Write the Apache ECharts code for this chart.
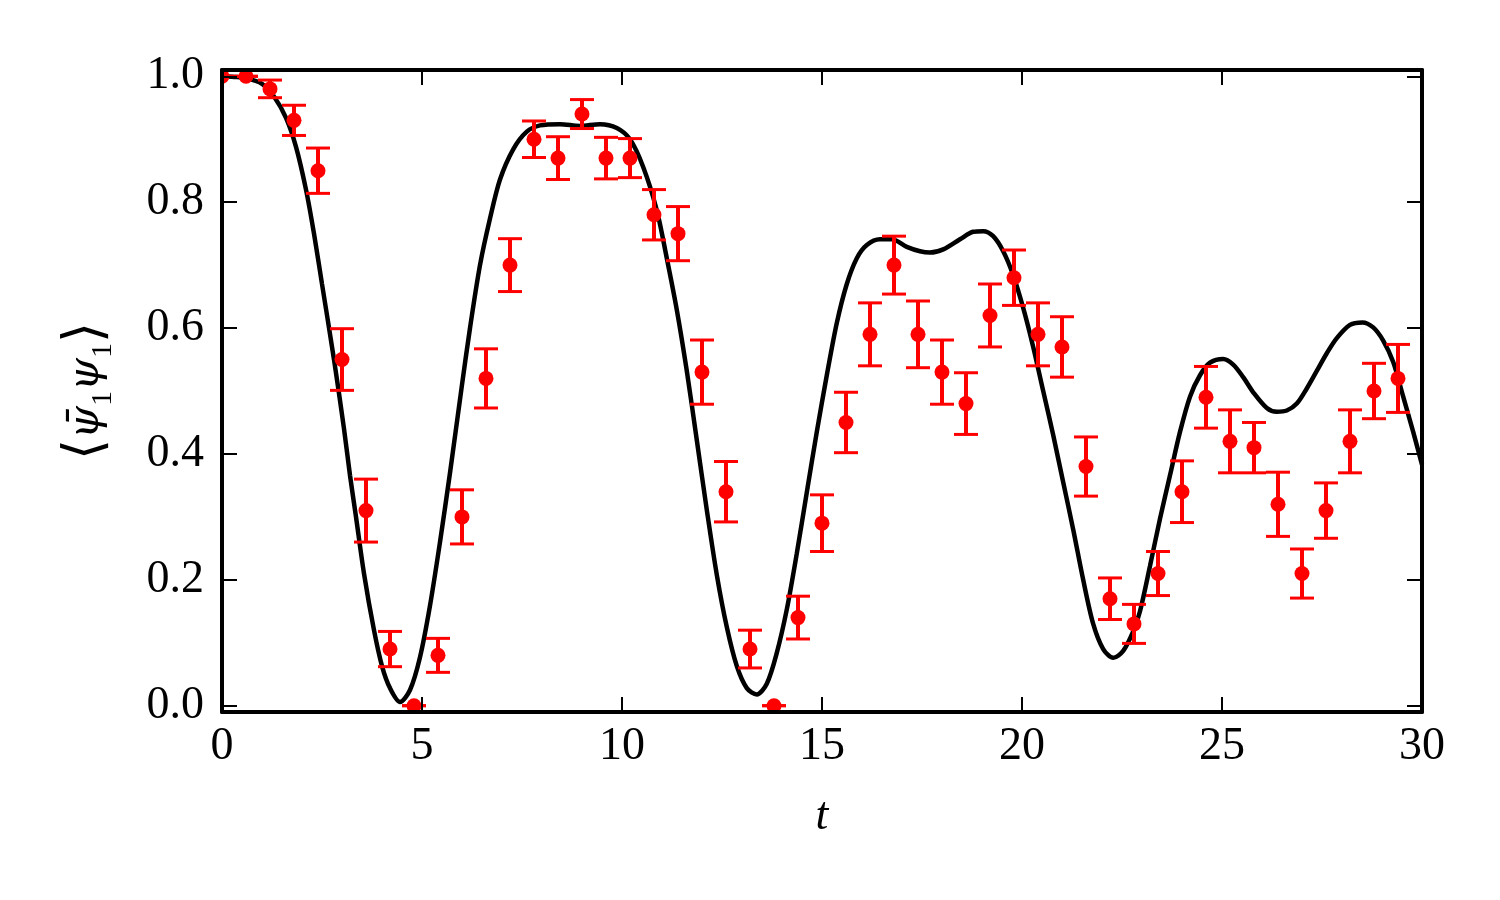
<!DOCTYPE html>
<html>
<head>
<meta charset="utf-8">
<script src="https://cdn.jsdelivr.net/npm/echarts@6/dist/echarts.min.js"></script>
<style>
  html, body { margin: 0; padding: 0; background: #fff; }
  #chart { width: 1500px; height: 900px; }
</style>
</head>
<body>
<div id="chart"></div>
<script>
const pointT = [0, 0.6, 1.2, 1.8, 2.4, 3.0, 3.6, 4.2, 4.8, 5.4, 6.0, 6.6, 7.2, 7.8, 8.4, 9.0, 9.6,
  10.2, 10.8, 11.4, 12.0, 12.6, 13.2, 13.8, 14.4, 15.0, 15.6, 16.2, 16.8, 17.4, 18.0, 18.6, 19.2,
  19.8, 20.4, 21.0, 21.6, 22.2, 22.8, 23.4, 24.0, 24.6, 25.2, 25.8, 26.4, 27.0, 27.6, 28.2, 28.8, 29.4];
const pointV = [1.0, 1.0, 0.98, 0.93, 0.85, 0.55, 0.31, 0.09, 0.0, 0.08, 0.30, 0.52, 0.70, 0.90, 0.87, 0.94, 0.87,
  0.87, 0.78, 0.75, 0.53, 0.34, 0.09, 0.0, 0.14, 0.29, 0.45, 0.59, 0.70, 0.59, 0.53, 0.48, 0.62,
  0.68, 0.59, 0.57, 0.38, 0.17, 0.13, 0.21, 0.34, 0.49, 0.42, 0.41, 0.32, 0.21, 0.31, 0.42, 0.50, 0.52];
const pointErr = [0.0, 0.0, 0.014, 0.024, 0.036, 0.049, 0.050, 0.028, 0.0, 0.027, 0.043, 0.047, 0.042, 0.029, 0.034, 0.023, 0.033,
  0.031, 0.040, 0.043, 0.051, 0.048, 0.030, 0.0, 0.034, 0.045, 0.048, 0.050, 0.046, 0.053, 0.051, 0.049, 0.050,
  0.044, 0.050, 0.048, 0.047, 0.033, 0.031, 0.035, 0.049, 0.049, 0.050, 0.040, 0.051, 0.039, 0.044, 0.050, 0.044, 0.054];

// theory curve
const curveT = [0, 0.3, 0.6, 1.0, 1.3, 1.6, 1.85, 2.1, 2.3, 2.5, 2.8, 3.05, 3.2, 3.35, 3.55, 3.8, 4.0, 4.2, 4.45,
  4.7, 4.95, 5.2, 5.45, 5.7, 6.0, 6.2, 6.45, 6.7, 6.95, 7.28, 7.62, 7.95, 8.45, 8.95, 9.45, 9.87,
  10.2, 10.53, 10.87, 11.12, 11.37, 11.62, 11.87, 12.12, 12.37, 12.62, 12.87, 13.12, 13.37, 13.62, 13.87,
  14.12, 14.37, 14.62, 14.87, 15.12, 15.37, 15.62, 15.87, 16.12, 16.45, 16.75, 17.12, 17.45, 17.7, 18.03,
  18.45, 18.78, 19.03, 19.28, 19.53, 19.78, 20.03, 20.28, 20.53, 20.78, 21.03, 21.28, 21.53, 21.78, 22.03,
  22.28, 22.53, 22.78, 22.95, 23.2, 23.45, 23.7, 23.95, 24.2, 24.45, 24.7, 25.03, 25.28, 25.53, 25.78,
  26.12, 26.37, 26.62, 26.87, 27.12, 27.37, 27.62, 27.87, 28.2, 28.51, 28.78, 29.03, 29.28, 29.53, 29.78, 30.0];
const curveV = [1.0, 0.999, 0.997, 0.988, 0.968, 0.934, 0.888, 0.82, 0.75, 0.67, 0.55, 0.44, 0.366, 0.30, 0.21, 0.12, 0.063, 0.028, 0.006,
  0.025, 0.077, 0.159, 0.26, 0.37, 0.51, 0.60, 0.70, 0.774, 0.836, 0.884, 0.912, 0.922, 0.924, 0.921, 0.924, 0.918,
  0.90, 0.856, 0.787, 0.711, 0.629, 0.532, 0.422, 0.311, 0.208, 0.125, 0.063, 0.028, 0.018, 0.035, 0.084,
  0.153, 0.242, 0.339, 0.435, 0.525, 0.608, 0.670, 0.711, 0.732, 0.741, 0.741, 0.729, 0.722, 0.720, 0.725,
  0.741, 0.753, 0.754, 0.746, 0.722, 0.684, 0.632, 0.57, 0.50, 0.43, 0.355, 0.28, 0.20, 0.13, 0.09,
  0.076, 0.087, 0.118, 0.15, 0.222, 0.297, 0.366, 0.435, 0.491, 0.525, 0.545, 0.551, 0.542, 0.522, 0.498,
  0.473, 0.467, 0.469, 0.48, 0.504, 0.532, 0.560, 0.584, 0.605, 0.609, 0.601, 0.580, 0.546, 0.491, 0.435, 0.383];

const xTicks = [0, 5, 10, 15, 20, 25, 30];
const yTicks = [0, 0.2, 0.4, 0.6, 0.8, 1.0];

const RED = '#ff0000';
const FONT = 'Liberation Serif';

const chart = echarts.init(document.getElementById('chart'));

const frame = {
  axisLine: { show: true, onZero: false, lineStyle: { color: '#000', width: 4 } },
  axisTick: { inside: true, length: 15, lineStyle: { color: '#000', width: 2 } },
  splitLine: { show: false }
};

const option = {
  animation: false,
  backgroundColor: '#fff',
  grid: { left: 222, right: 78, top: 70, bottom: 188, containLabel: false },
  xAxis: [
    {
      ...frame, type: 'value', position: 'bottom', z: 10,
      min: 0, max: 30, interval: 5,
      axisLabel: { color: '#000', fontFamily: FONT, fontSize: 46, margin: 12,
        customValues: xTicks, formatter: v => String(v) },
      name: 't', nameLocation: 'middle', nameGap: 82,
      nameTextStyle: { color: '#000', fontFamily: FONT, fontSize: 46, fontStyle: 'italic' }
    },
    {
      ...frame, type: 'value', position: 'top', z: 10,
      min: 0, max: 30, interval: 5,
      axisLabel: { show: false }
    }
  ],
  yAxis: [
    {
      ...frame, type: 'value', position: 'left', z: 10,
      min: -0.01, max: 1.01,
      axisTick: { ...frame.axisTick, customValues: yTicks },
      axisLabel: { color: '#000', fontFamily: FONT, fontSize: 46, margin: 18,
        customValues: yTicks, formatter: v => v.toFixed(1) },
      name: '{br|\u27E8}{psi|\u03C8\u0304}{sub|1}{psi|\u03C8}{sub|1}{br|\u27E9}',
      nameLocation: 'middle', nameRotate: 90, nameGap: 104,
      nameTextStyle: {
        color: '#000', fontFamily: FONT, fontSize: 46,
        rich: {
          br: { fontFamily: 'DejaVu Serif', fontSize: 54, lineHeight: 62, color: '#000' },
          psi: { fontFamily: 'DejaVu Serif', fontStyle: 'italic', fontSize: 42, lineHeight: 50, color: '#000' },
          sub: { fontFamily: FONT, fontSize: 30, lineHeight: 30, verticalAlign: 'bottom', color: '#000' }
        }
      }
    },
    {
      ...frame, type: 'value', position: 'right', z: 10,
      min: -0.01, max: 1.01,
      axisTick: { ...frame.axisTick, customValues: yTicks },
      axisLabel: { show: false }
    }
  ],
  series: [
    {
      type: 'line',
      xAxisIndex: 0, yAxisIndex: 0,
      data: curveT.map((t, i) => [t, curveV[i]]),
      smooth: 0.3,
      showSymbol: false,
      clip: true,
      lineStyle: { color: '#000', width: 4.5 },
      z: 2
    },
    {
      type: 'custom',
      xAxisIndex: 0, yAxisIndex: 0,
      clip: true,
      z: 3,
      data: pointT.map((t, i) => [t, pointV[i], pointErr[i]]),
      encode: { x: 0, y: 1 },
      renderItem: function (params, api) {
        const t = api.value(0), v = api.value(1), e = api.value(2);
        const lo = api.coord([t, v - e]);
        const hi = api.coord([t, v + e]);
        const c = api.coord([t, v]);
        const cap = 12;
        return {
          type: 'group',
          children: [
            { type: 'line', shape: { x1: lo[0], y1: lo[1], x2: hi[0], y2: hi[1] },
              style: { stroke: RED, lineWidth: 4 } },
            { type: 'line', shape: { x1: lo[0] - cap, y1: lo[1], x2: lo[0] + cap, y2: lo[1] },
              style: { stroke: RED, lineWidth: 3 } },
            { type: 'line', shape: { x1: hi[0] - cap, y1: hi[1], x2: hi[0] + cap, y2: hi[1] },
              style: { stroke: RED, lineWidth: 3 } },
            { type: 'circle', shape: { cx: c[0], cy: c[1], r: 7.5 }, style: { fill: RED } }
          ]
        };
      }
    }
  ]
};

chart.setOption(option);
</script>
</body>
</html>
